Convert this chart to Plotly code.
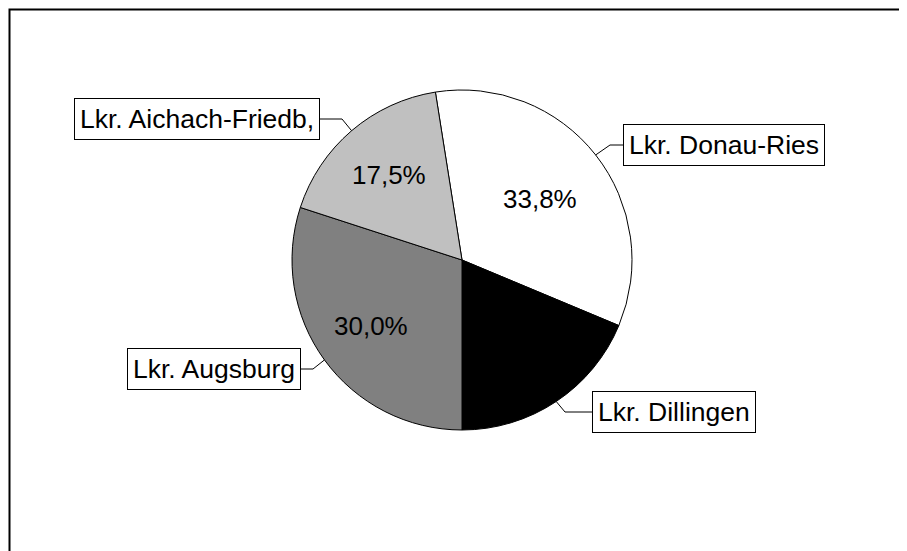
import math
import plotly.graph_objects as go

# ---- data ----
labels = ["Lkr. Donau-Ries", "Lkr. Dillingen", "Lkr. Augsburg", "Lkr. Aichach-Friedb,"]
values = [33.8, 18.7, 30.0, 17.5]
pct_text = ["33,8%", "", "30,0%", "17,5%"]
colors = ["#ffffff", "#000000", "#808080", "#c0c0c0"]

# ---- layout constants (pixels, page coordinates) ----
W, H = 907, 551
OFF = 8  # page body margin
CX, CY, R = 462, 260, 170
ROT = -9
FONT = "Arial, Liberation Sans, sans-serif"
pct_radius = [0.58, 0.6, 0.66, 0.66]

# label box anchor: (elbow_x, box_y, box_side_x, xanchor)
label_layout = [
    (610, 145, 623, "left"),
    (565, 412, 592, "left"),
    (313, 369, 301, "right"),
    (342, 119, 320, "right"),
]

def px(x):
    return (x - OFF) / W

def py(y):
    return 1 - (y - OFF) / H

fig = go.Figure(go.Pie(
    labels=labels,
    values=values,
    textinfo="none",
    sort=False,
    direction="clockwise",
    rotation=ROT,
    marker=dict(colors=colors, line=dict(color="black", width=1)),
    domain=dict(x=[px(CX - R), px(CX + R)], y=[py(CY + R), py(CY - R)]),
    hoverinfo="label+percent",
))

total = sum(values)
shapes = []
annotations = []
cum = 0.0
for lab, v, t, rf, (ex, by, bx, anc) in zip(labels, values, pct_text, pct_radius, label_layout):
    mid = math.radians(ROT + (cum + v / 2) / total * 360)
    cum += v
    sx, sy = math.sin(mid), -math.cos(mid)
    edge_x, edge_y = CX + R * sx, CY + R * sy
    # percentage text inside the slice
    if t:
        annotations.append(dict(text=t, xref="paper", yref="paper",
                                x=px(CX + rf * R * sx), y=py(CY + rf * R * sy),
                                xanchor="center", yanchor="middle", showarrow=False,
                                font=dict(family=FONT, size=26, color="black")))
    # leader line: pie edge -> elbow -> box
    shapes.append(dict(type="line", xref="paper", yref="paper",
                       x0=px(edge_x), y0=py(edge_y), x1=px(ex), y1=py(by),
                       line=dict(color="black", width=1)))
    shapes.append(dict(type="line", xref="paper", yref="paper",
                       x0=px(ex), y0=py(by), x1=px(bx), y1=py(by),
                       line=dict(color="black", width=1)))
    annotations.append(dict(text=lab, xref="paper", yref="paper",
                            x=px(bx), y=py(by), xanchor=anc, yanchor="middle",
                            showarrow=False, bgcolor="white",
                            bordercolor="black", borderwidth=1, borderpad=5,
                            font=dict(family=FONT, size=26.5, color="black")))

# outer frame (drawn at the figure's top-left edge)
shapes.append(dict(type="rect", xref="paper", yref="paper",
                   x0=1.5 / W, y0=-0.05, x1=1.05, y1=1 - 1.5 / H,
                   line=dict(color="black", width=2)))

fig.update_layout(
    width=W, height=H,
    margin=dict(l=0, r=0, t=0, b=0),
    paper_bgcolor="white",
    plot_bgcolor="white",
    showlegend=False,
    shapes=shapes,
    annotations=annotations,
    font=dict(family=FONT),
)

fig.write_html("out.html")
